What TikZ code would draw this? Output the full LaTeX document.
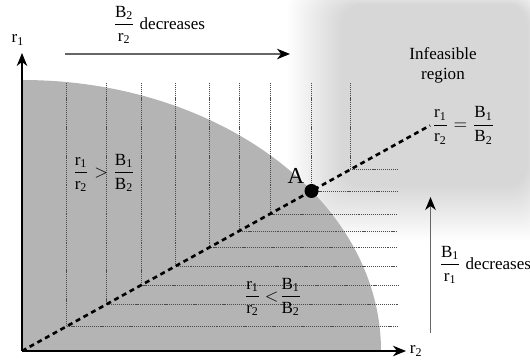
\documentclass[tikz,border=0pt]{standalone}
\usepackage{amsmath}
\usepackage{fontspec}
\setmainfont{Liberation Serif}
\usetikzlibrary{arrows.meta,positioning}
\newcommand{\ratio}[4]{\dfrac{\text{#1}_{\text{#2}}}{\text{#3}_{\text{#4}}}}
\tikzset{
feasible/.style={fill={rgb,255:red,180;green,180;blue,180}},
axis_line/.style={line width=0.85pt, -{Stealth[length=2.6mm,width=2.1mm,inset=0.8mm]}},
decrease_arrow/.style={line width=0.7pt, draw=black!60, -{Stealth[black,length=2.6mm,width=2.1mm,inset=0.8mm]}},
stair_line/.style={line width=0.45pt, draw=black!70, dash pattern=on 0.6pt off 0.5pt},
ratio_line/.style={line width=1.5pt, dash pattern=on 2.8pt off 2.2pt},
point_dot/.style={circle, fill=black, inner sep=0pt, minimum size=0.28cm},
plain_text/.style={inner sep=1pt}
}

\begin{document}
\begin{tikzpicture}[font=\fontsize{9.7}{11.5}\selectfont]
    \useasboundingbox (-0.44,-0.18) rectangle (10.16,7.02);
    % infeasible region, soft edges
    \foreach \i in {0,...,39}
        \fill[black, opacity=0.0057, rounded corners=12pt] (5.3+\i*0.028,2.2+\i*0.028) rectangle (10.5-\i*0.01,7.25-\i*0.008);
    % feasible region
    \fill[feasible] (0,0) -- (0,5.42) arc[start angle=90, end angle=0, x radius=7.18, y radius=5.42] -- cycle;
    % staircase
    \foreach \x in {0.89,1.69,2.39,3.07,3.74,4.34,4.96,5.79,6.56}
        \draw[stair_line] (\x,5.36) -- (\x,0.5527*\x) -- (7.52,0.5527*\x);

    \coordinate (origin) at (0,0);
    \coordinate (r1_end) at (0,5.96);
    \coordinate (r2_end) at (7.68,0);
    \coordinate (ratio_end) at (8.16,4.51);
    \coordinate (top_start) at (0.86,5.94);
    \coordinate (top_end) at (5.36,5.94);
    \coordinate (right_start) at (8.17,0.36);
    \coordinate (right_end) at (8.17,3.08);

    \draw[axis_line] (origin) -- (r1_end);
    \draw[axis_line] (origin) -- (r2_end);
    \node[plain_text] (r1_label) at (-0.08,6.22) {$\text{r}_{\text{1}}$};
    \node[plain_text] (r2_label) [right=1pt of r2_end] {$\text{r}_{\text{2}}$};

    \draw[ratio_line] (origin) -- (ratio_end);
    \node[plain_text] (ratio_label) [right=0pt of ratio_end] {$\ratio{r}{1}{r}{2} = \ratio{B}{1}{B}{2}$};

    \node[point_dot] (A) at (5.79,3.20) {};
    \node[plain_text, font=\fontsize{13}{15}\selectfont] (A_label) [above left=0pt of A] {A};

    \draw[decrease_arrow] (top_start) -- (top_end);
    \node[plain_text] (top_label) at (2.74,6.52) {$\ratio{B}{2}{r}{2}$ decreases};
    \draw[decrease_arrow] (right_start) -- (right_end);
    \node[plain_text] (right_label) at (9.26,1.72) {$\ratio{B}{1}{r}{1}$ decreases};

    \node[plain_text, align=center] (infeasible_label) at (8.42,5.72) {Infeasible\\region};
    \node[plain_text] (upper_label) at (1.64,3.56) {$\ratio{r}{1}{r}{2} > \ratio{B}{1}{B}{2}$};
    \node[plain_text] (lower_label) at (5.02,1.08) {$\ratio{r}{1}{r}{2} \mathbin{<}\! \ratio{B}{1}{B}{2}$};
\end{tikzpicture}
\end{document}
